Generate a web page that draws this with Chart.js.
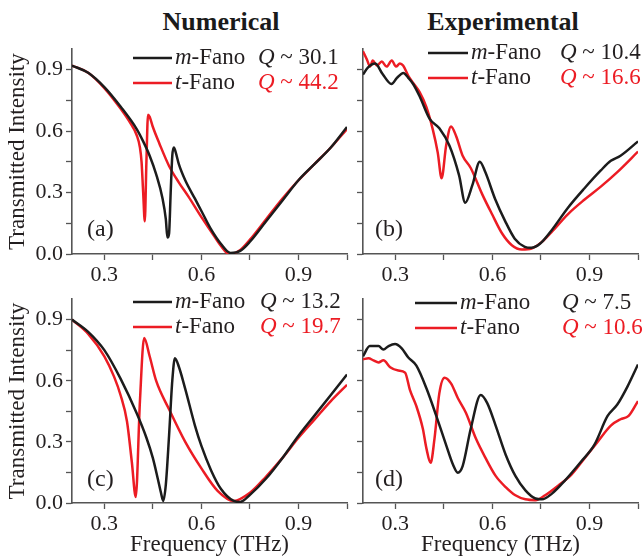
<!DOCTYPE html>
<html>
<head>
<meta charset="utf-8">
<script src="https://cdn.jsdelivr.net/npm/chart.js@4.4.1/dist/chart.umd.min.js"></script>
<style>
  body { margin: 0; background: #fff; width: 644px; height: 556px; position: relative; overflow: hidden; }
  canvas { position: absolute; }
  .head { position: absolute; top: 9px; width: 300px; text-align: center; font: bold 26px "Liberation Serif", serif; line-height: 1; color: #1a1a1a; }
</style>
</head>
<body>
<div class="head" style="left:71px">Numerical</div>
<div class="head" style="left:353px">Experimental</div>
<canvas id="cA" width="355" height="250" style="left:0;top:33px"></canvas>
<canvas id="cB" width="344" height="250" style="left:300px;top:33px"></canvas>
<canvas id="cC" width="355" height="273" style="left:0;top:283px"></canvas>
<canvas id="cD" width="344" height="273" style="left:300px;top:283px"></canvas>
<script>
// tick positions (THz / transmission); only multiples of 0.3 get a label
var xTicks = [0.3, 0.45, 0.6, 0.75, 0.9, 1.05];
var yTicks = [0, 0.15, 0.3, 0.45, 0.6, 0.75, 0.9];

// (a) numerical, weaker coupling
var freqA_m = [0.2,0.25,0.3,0.35,0.4,0.42,0.44,0.46,0.48,0.49,0.495,0.5,0.505,0.51,0.515,0.52,0.53,0.55,0.58,0.6,0.63,0.66,0.69,0.72,0.75,0.8,0.85,0.9,0.95,1.0,1.05];
var transA_m = [0.92,0.885,0.815,0.72,0.61,0.55,0.48,0.39,0.27,0.17,0.08,0.1,0.3,0.48,0.52,0.5,0.44,0.36,0.27,0.21,0.12,0.05,0.005,0.015,0.06,0.16,0.26,0.36,0.44,0.52,0.62];
var freqA_t = [0.2,0.25,0.3,0.35,0.38,0.4,0.41,0.415,0.42,0.425,0.43,0.435,0.44,0.45,0.47,0.5,0.53,0.56,0.6,0.63,0.66,0.685,0.72,0.75,0.8,0.85,0.9,0.95,1.0,1.05];
var transA_t = [0.92,0.885,0.81,0.71,0.64,0.58,0.52,0.45,0.3,0.16,0.45,0.68,0.67,0.62,0.54,0.43,0.35,0.28,0.18,0.11,0.04,0.0,0.02,0.07,0.17,0.27,0.36,0.44,0.52,0.61];

// (b) measured
var freqB_m = [0.2,0.215,0.238,0.26,0.288,0.305,0.325,0.34,0.355,0.375,0.406,0.436,0.467,0.497,0.516,0.538,0.561,0.578,0.608,0.639,0.669,0.7,0.72,0.747,0.782,0.833,0.884,0.935,0.966,0.996,1.05];
var transB_m = [0.876,0.91,0.93,0.88,0.83,0.86,0.884,0.86,0.83,0.77,0.66,0.614,0.53,0.384,0.25,0.336,0.451,0.4,0.27,0.162,0.075,0.035,0.03,0.05,0.114,0.225,0.32,0.408,0.455,0.48,0.55];
var freqB_t = [0.2,0.212,0.222,0.23,0.243,0.258,0.273,0.289,0.302,0.314,0.324,0.34,0.355,0.375,0.396,0.416,0.431,0.443,0.457,0.472,0.488,0.508,0.533,0.569,0.599,0.63,0.66,0.691,0.721,0.752,0.782,0.833,0.884,0.935,0.986,1.05];
var transB_t = [0.99,0.95,0.915,0.945,0.92,0.94,0.915,0.945,0.915,0.93,0.92,0.87,0.835,0.79,0.717,0.606,0.495,0.37,0.53,0.623,0.575,0.48,0.42,0.29,0.194,0.1,0.043,0.022,0.027,0.058,0.106,0.194,0.265,0.329,0.4,0.5];

// (c) numerical, stronger coupling
var freqC_m = [0.2,0.25,0.3,0.35,0.4,0.43,0.45,0.465,0.475,0.482,0.49,0.5,0.51,0.518,0.53,0.55,0.58,0.6,0.63,0.66,0.7,0.72,0.75,0.8,0.85,0.9,0.95,1.0,1.05];
var transC_m = [0.9,0.84,0.75,0.61,0.44,0.32,0.22,0.12,0.05,0.01,0.09,0.33,0.6,0.71,0.67,0.56,0.38,0.28,0.16,0.07,0.01,0.005,0.04,0.12,0.22,0.33,0.43,0.53,0.63];
var freqC_t = [0.2,0.25,0.3,0.33,0.35,0.37,0.385,0.397,0.41,0.423,0.44,0.46,0.5,0.55,0.6,0.65,0.7,0.75,0.8,0.85,0.9,0.95,1.0,1.05];
var transC_t = [0.9,0.83,0.72,0.62,0.53,0.4,0.2,0.03,0.5,0.81,0.72,0.6,0.46,0.3,0.17,0.06,0.01,0.05,0.13,0.22,0.32,0.41,0.5,0.58];

// (d) measured
var freqD_m = [0.2,0.221,0.248,0.263,0.279,0.299,0.319,0.34,0.365,0.396,0.426,0.457,0.478,0.493,0.508,0.533,0.564,0.584,0.61,0.641,0.671,0.702,0.733,0.753,0.784,0.824,0.875,0.915,0.956,0.986,1.017,1.05];
var transD_m = [0.72,0.77,0.77,0.753,0.77,0.78,0.76,0.714,0.674,0.563,0.43,0.284,0.189,0.149,0.181,0.364,0.53,0.49,0.38,0.237,0.133,0.062,0.022,0.018,0.046,0.11,0.205,0.285,0.427,0.483,0.57,0.68];
var freqD_t = [0.2,0.217,0.232,0.248,0.263,0.284,0.309,0.33,0.345,0.365,0.385,0.396,0.409,0.421,0.436,0.452,0.472,0.493,0.518,0.549,0.579,0.61,0.641,0.671,0.702,0.733,0.763,0.804,0.845,0.885,0.925,0.966,0.996,1.021,1.05];
var transD_t = [0.705,0.71,0.7,0.69,0.7,0.666,0.65,0.64,0.555,0.475,0.364,0.268,0.197,0.316,0.539,0.615,0.587,0.515,0.443,0.316,0.22,0.133,0.078,0.038,0.018,0.014,0.038,0.086,0.141,0.22,0.3,0.38,0.411,0.427,0.5];

var panelTags = ['(a)', '(b)', '(c)', '(d)'];
var qMFano = ['30.1', '10.4', '13.2', '7.5'];
var qTFano = ['44.2', '16.6', '19.7', '10.6'];

var BLACK = '#1c1c1c';
var RED = '#ec1c24';
var INK = '#231f20';
var AXIS = '#555555';
var SERIF = '"Liberation Serif", "Times New Roman", serif';

function isMajor(v) {
  var k = v / 0.3;
  return Math.abs(k - Math.round(k)) < 1e-6;
}

function pts(f, t) {
  return f.map(function (x, i) { return { x: x, y: t[i] }; });
}

function richText(ctx, parts, x, y, size, color) {
  ctx.fillStyle = color;
  parts.forEach(function (p) {
    ctx.font = (p[1] ? 'italic ' : '') + size + 'px ' + SERIF;
    ctx.fillText(p[0], x, y);
    x += ctx.measureText(p[0]).width;
  });
}

// legend rows and the panel letter, drawn over the plot
var fanoKey = {
  id: 'fanoKey',
  afterDraw: function (chart, args, o) {
    var ctx = chart.ctx;
    ctx.save();
    ctx.textBaseline = 'middle';
    ctx.textAlign = 'left';
    var rows = [
      { color: BLACK, name: 'm', q: o.qm },
      { color: RED, name: 't', q: o.qt }
    ];
    rows.forEach(function (r, i) {
      var y = o.y + i * 25;
      ctx.strokeStyle = r.color;
      ctx.lineWidth = 2.6;
      ctx.beginPath();
      ctx.moveTo(o.x0, y);
      ctx.lineTo(o.x1, y);
      ctx.stroke();
      richText(ctx, [[r.name, true], ['-Fano', false]], o.x1 + 3, y, 23, INK);
      richText(ctx, [['Q', true], [' ~ ' + r.q, false]], o.xq, y, 23, i === 0 ? INK : r.color);
    });
    ctx.font = '24px ' + SERIF;
    ctx.fillStyle = INK;
    ctx.fillText(o.tag, o.tagX, o.tagY);
    ctx.restore();
  }
};

function makePanel(id, m, t, opt) {
  var axisFont = { family: SERIF, size: 22 };
  new Chart(document.getElementById(id), {
    type: 'line',
    data: {
      datasets: [
        { data: pts(m[0], m[1]), borderColor: BLACK },
        { data: pts(t[0], t[1]), borderColor: RED }
      ]
    },
    options: {
      responsive: false,
      animation: false,
      events: [],
      layout: { padding: { top: 10, right: opt.right, left: 0, bottom: 0 } },
      elements: {
        point: { radius: 0 },
        line: { borderWidth: 2.5, cubicInterpolationMode: 'monotone' }
      },
      plugins: {
        legend: { display: false },
        tooltip: { enabled: false },
        fanoKey: opt.key
      },
      scales: {
        x: {
          type: 'linear',
          min: 0.2,
          max: 1.05,
          afterBuildTicks: function (s) { s.ticks = xTicks.map(function (v) { return { value: v }; }); },
          afterFit: function (s) { s.height = opt.xh; },
          ticks: {
            autoSkip: false, maxRotation: 0, padding: 2, color: INK, font: axisFont,
            callback: function (v) { return isMajor(v) ? v.toFixed(1) : ''; }
          },
          grid: { drawOnChartArea: false, tickLength: 6, tickColor: AXIS, tickWidth: 1.3 },
          border: { color: AXIS, width: 1.6 },
          title: {
            display: opt.xTitle, text: 'Frequency (THz)', color: INK,
            font: { family: SERIF, size: 23, lineHeight: 1 }, padding: { top: 0, bottom: 0 }
          }
        },
        y: {
          type: 'linear',
          min: 0,
          max: 1.0,
          afterBuildTicks: function (s) { s.ticks = yTicks.map(function (v) { return { value: v }; }); },
          afterFit: function (s) { s.width = opt.yw; },
          ticks: {
            autoSkip: false, padding: 3, color: INK, font: axisFont,
            callback: function (v) { return opt.yLabels && isMajor(v) ? v.toFixed(1) : ''; }
          },
          grid: { drawOnChartArea: false, tickLength: 6, tickColor: AXIS, tickWidth: 1.3 },
          border: { color: AXIS, width: 1.6 },
          title: {
            display: opt.yLabels, text: 'Transmitted Intensity', color: INK,
            font: { family: SERIF, size: 23, lineHeight: 1 }, padding: { top: 6, bottom: 0 }
          }
        }
      }
    },
    plugins: [fanoKey]
  });
}

makePanel('cA', [freqA_m, transA_m], [freqA_t, transA_t], {
  right: 8, yw: 72, xh: 29, yLabels: true, xTitle: false,
  key: { x0: 133, x1: 172, xq: 258, y: 25, qm: qMFano[0], qt: qTFano[0], tag: panelTags[0], tagX: 87, tagY: 197 }
});
makePanel('cB', [freqB_m, transB_m], [freqB_t, transB_t], {
  right: 6, yw: 63, xh: 29, yLabels: false, xTitle: false,
  key: { x0: 128, x1: 168, xq: 260, y: 20, qm: qMFano[1], qt: qTFano[1], tag: panelTags[1], tagX: 75, tagY: 197 }
});
makePanel('cC', [freqC_m, transC_m], [freqC_t, transC_t], {
  right: 8, yw: 72, xh: 53, yLabels: true, xTitle: true,
  key: { x0: 133, x1: 172, xq: 260, y: 19, qm: qMFano[2], qt: qTFano[2], tag: panelTags[2], tagX: 87, tagY: 197 }
});
makePanel('cD', [freqD_m, transD_m], [freqD_t, transD_t], {
  right: 6, yw: 63, xh: 53, yLabels: false, xTitle: true,
  key: { x0: 115, x1: 157, xq: 262, y: 20, qm: qMFano[3], qt: qTFano[3], tag: panelTags[3], tagX: 75, tagY: 197 }
});
</script>
</body>
</html>
